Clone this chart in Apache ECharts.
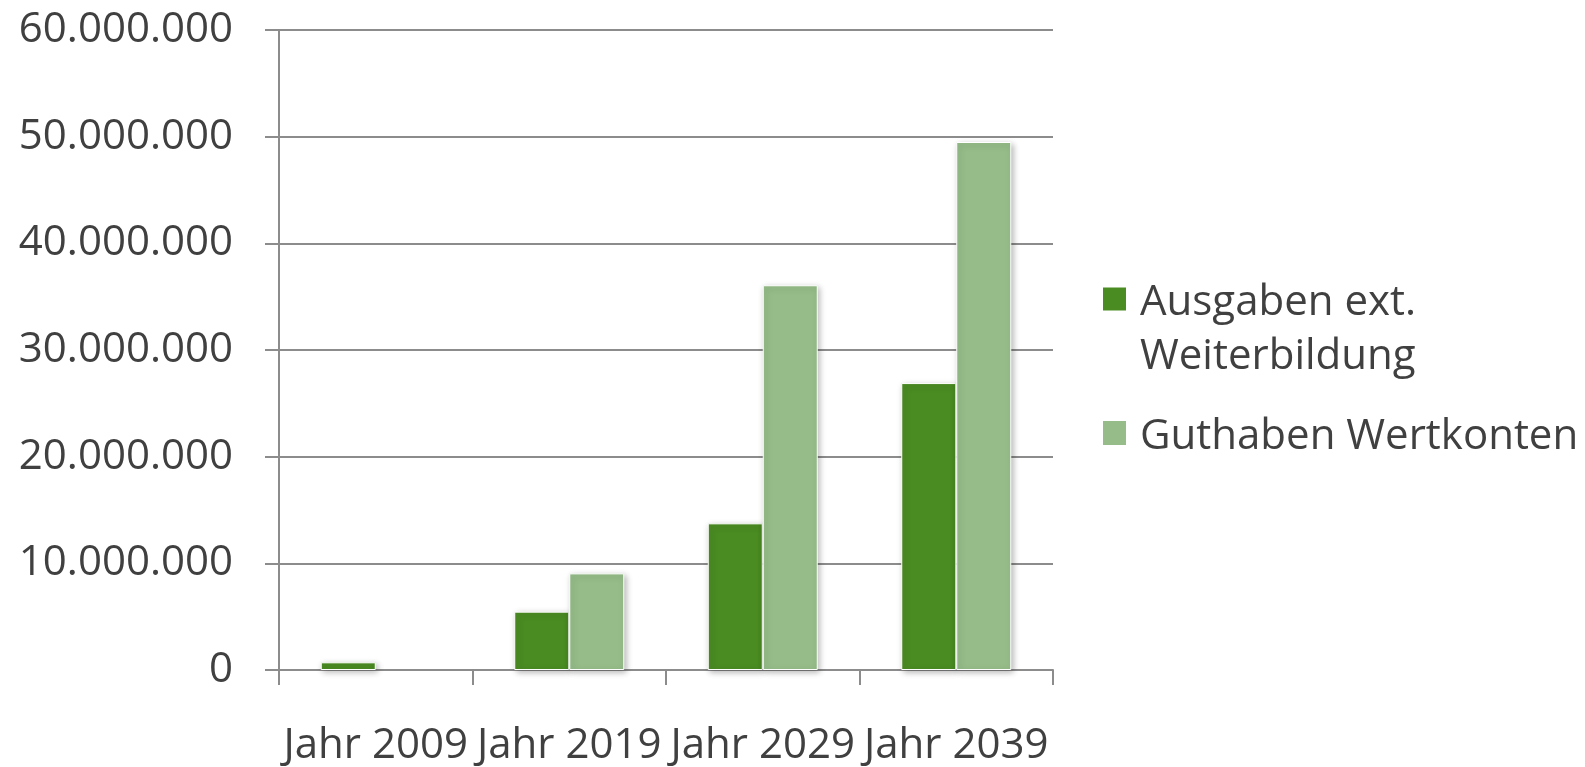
<!DOCTYPE html>
<html>
<head>
<meta charset="utf-8">
<script src="https://cdn.jsdelivr.net/npm/echarts@6/dist/echarts.min.js"></script>
<style>
  html, body { margin: 0; padding: 0; background: #fff; }
  #chart { width: 1585px; height: 767px; }
</style>
</head>
<body>
<div id="chart"></div>
<script>
// Categories and values
var categories = ['Jahr 2009', 'Jahr 2019', 'Jahr 2029', 'Jahr 2039'];
var seriesNames = ['Ausgaben ext. Weiterbildung', 'Guthaben Wertkonten'];
var ausgaben = [720000, 5470000, 13750000, 26900000];
var guthaben = [0, 9060000, 36070000, 49500000];
var yMin = 0, yMax = 60000000, yStep = 10000000;

var FONT = '"Open Sans", "Noto Sans", sans-serif';
var TEXT = '#404040';
var LINE = '#8C8C8C';
var DARK = '#4A8B22';
var LIGHT = '#95BC89';

function fmtDots(v) {
  return String(Math.round(v)).replace(/\B(?=(\d{3})+(?!\d))/g, '.');
}

function barStyle(c) {
  return {
    color: c,
    borderColor: '#ffffff',
    borderWidth: 1,
    shadowBlur: 6,
    shadowColor: 'rgba(0,0,0,0.28)',
    shadowOffsetX: 2,
    shadowOffsetY: 2
  };
}

// zero-height bars get no outline or shadow so nothing shows at the baseline
function barData(values) {
  return values.map(function (v) {
    return v === 0
      ? { value: v, itemStyle: { borderWidth: 0, shadowBlur: 0, shadowOffsetX: 0, shadowOffsetY: 0, shadowColor: 'transparent' } }
      : v;
  });
}

var chart = echarts.init(document.getElementById('chart'), null, { renderer: 'canvas' });
chart.setOption({
  animation: false,
  backgroundColor: '#ffffff',
  grid: { left: 279, right: 532, top: 30, bottom: 97, containLabel: false },
  legend: [
    {
      data: [seriesNames[0]],
      // first line sits level with the swatch, second line wraps below
      formatter: function () { return '{s| }\n{a|Ausgaben ext.}\n{b|Weiterbildung}'; },
      left: 1101, top: 225, padding: 0,
      itemWidth: 25, itemHeight: 25,
      icon: 'rect',
      selectedMode: false,
      textStyle: {
        fontFamily: FONT, fontSize: 42, color: TEXT,
        rich: {
          s: { fontFamily: FONT, fontSize: 42, lineHeight: 62, padding: [0, 0, 0, 8], color: 'transparent' },
          a: { fontFamily: FONT, fontSize: 42, lineHeight: 52, padding: [0, 0, 0, 8], color: TEXT },
          b: { fontFamily: FONT, fontSize: 42, lineHeight: 54, padding: [2, 0, 0, 8], color: TEXT }
        }
      }
    },
    {
      data: [seriesNames[1]],
      formatter: function (n) { return '{a|' + n + '}'; },
      left: 1101, top: 408, padding: 0,
      itemWidth: 25, itemHeight: 26,
      icon: 'rect',
      selectedMode: false,
      textStyle: {
        fontFamily: FONT, fontSize: 42, color: TEXT,
        rich: { a: { fontFamily: FONT, fontSize: 42, lineHeight: 52, padding: [8, 0, 0, 8], color: TEXT } }
      }
    }
  ],
  xAxis: {
    type: 'category',
    data: categories,
    boundaryGap: true,
    axisLine: { show: true, lineStyle: { color: LINE, width: 2 } },
    axisTick: { show: true, length: 15, alignWithLabel: false, lineStyle: { color: LINE, width: 2 } },
    axisLabel: { margin: 55, fontFamily: FONT, fontSize: 42, color: TEXT, interval: 0 },
    splitLine: { show: false }
  },
  yAxis: {
    type: 'value',
    min: yMin, max: yMax, interval: yStep,
    axisLine: { show: true, lineStyle: { color: LINE, width: 2 } },
    axisTick: { show: true, length: 14, lineStyle: { color: LINE, width: 2 } },
    axisLabel: { margin: 46, fontFamily: FONT, fontSize: 42, color: TEXT, formatter: fmtDots },
    splitLine: { show: true, lineStyle: { color: LINE, width: 2 } }
  },
  series: [
    {
      name: seriesNames[0], type: 'bar', data: barData(ausgaben),
      barWidth: 55, barGap: '0%',
      itemStyle: barStyle(DARK)
    },
    {
      name: seriesNames[1], type: 'bar', data: barData(guthaben),
      barWidth: 55, barGap: '0%',
      itemStyle: barStyle(LIGHT)
    }
  ]
});
</script>
</body>
</html>
